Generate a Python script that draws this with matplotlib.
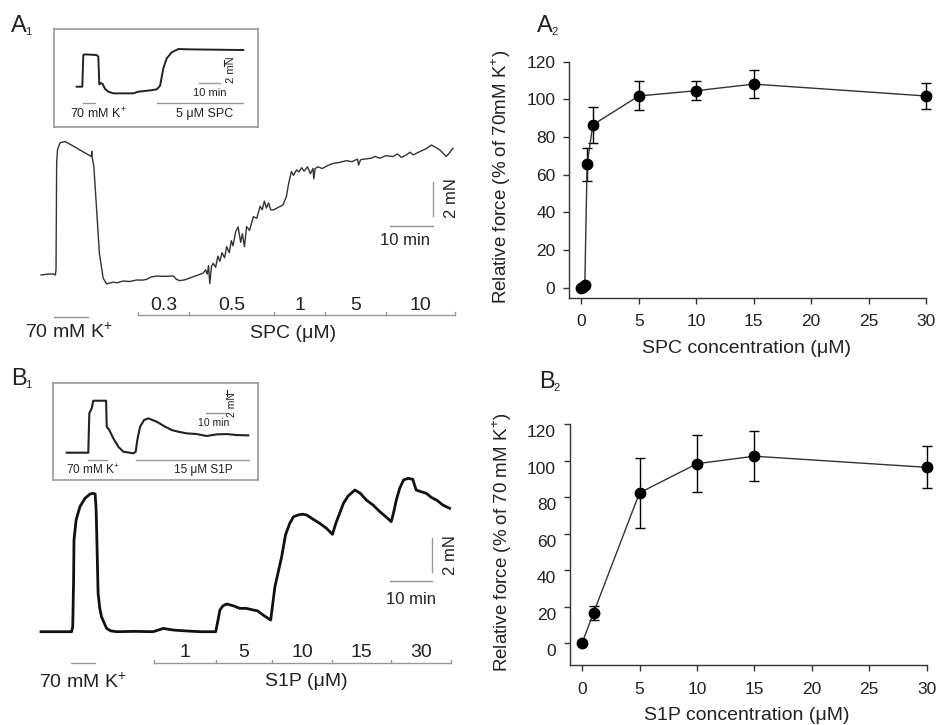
import numpy as np
import matplotlib
matplotlib.use("Agg")
import matplotlib.pyplot as plt
from matplotlib.transforms import ScaledTranslation

plt.rcParams['font.family'] = ['Liberation Sans', 'DejaVu Sans']
plt.rcParams['mathtext.fontset'] = 'custom'
plt.rcParams['mathtext.rm'] = 'Liberation Sans'

W, H = 938, 725
INK = '#222222'
BAR = '#999999'

# ---- data: traces (time in min, force in mN) ----
spc_trace = [(0, 0.0), (1.5, 0.05), (2.9, 0.06), (3.4, 0.0), (3.55, 0.3), (3.7, 6.5), (3.9, 7.3),
             (4.5, 7.7), (5.7, 7.77), (7.2, 7.57), (9.2, 7.28), (11.2, 7.0), (11.9, 6.9), (12.0, 7.2),
             (12.1, 6.85), (12.5, 6.3), (13.1, 4.0), (13.8, 1.26), (14.7, -0.19), (15.5, -0.52),
             (17.0, -0.42), (18.0, -0.45), (19.4, -0.35), (21.0, -0.38), (22.6, -0.29), (24.0, -0.3),
             (25.0, -0.25), (26.0, -0.12), (27.3, -0.06), (29.0, -0.08), (31.3, -0.06), (32.0, -0.25),
             (32.8, -0.33), (34.0, -0.28), (36.0, -0.1), (38.3, 0.1), (38.9, 0.3), (39.3, 0.05),
             (39.6, 0.55), (39.9, -0.5), (40.3, 0.5), (40.7, 0.68), (41.3, 0.45), (41.8, 1.1),
             (42.3, 0.8), (42.8, 1.3), (43.4, 1.0), (43.9, 1.65), (44.5, 1.3), (45.0, 2.0), (45.4, 1.7),
             (46.0, 2.5), (46.6, 2.8), (47.2, 1.9), (47.6, 2.4), (48.1, 1.65), (48.6, 2.82), (49.3, 2.6),
             (50.2, 3.4), (51.0, 3.3), (51.8, 4.0), (52.3, 3.8), (52.8, 4.3), (53.3, 3.9), (53.8, 4.2),
             (54.3, 3.8), (54.9, 3.79), (55.8, 3.9), (57.2, 4.08), (58.0, 4.56), (58.6, 5.4), (59.2, 6.02),
             (59.7, 5.8), (60.4, 6.12), (61.0, 6.0), (61.6, 6.25), (62.2, 6.05), (63.0, 6.3), (63.7, 5.9),
             (64.3, 6.21), (64.5, 5.6), (64.8, 6.2), (65.5, 6.3), (66.5, 6.2), (68.0, 6.4), (69.1, 6.5),
             (70.5, 6.55), (72.2, 6.66), (73.5, 6.6), (74.8, 6.75), (75.1, 6.4), (75.5, 6.7), (76.1, 6.74),
             (78.0, 6.8), (79.0, 6.9), (80.1, 6.8), (81.5, 6.95), (83.2, 6.9), (84.3, 7.05), (85.2, 6.85),
             (86.4, 6.99), (87.2, 7.15), (88.0, 7.0), (89.5, 7.18), (91.0, 7.35), (92.3, 7.57),
             (93.2, 7.45), (94.3, 7.28), (95.8, 6.9), (96.5, 7.1), (97.4, 7.38)]

s1p_trace = [(0, 0), (7.24, 0), (7.5, 0.3), (7.7, 3.0), (7.8, 5.5), (8.3, 6.7), (9.2, 7.5), (10.4, 8.0),
             (11.6, 8.26), (12.3, 8.3), (12.8, 8.26), (13.0, 7.5), (13.1, 6.7), (13.3, 4.5), (13.5, 2.3),
             (13.9, 1.4), (14.3, 0.9), (15.5, 0.2), (16.5, 0.05), (17.9, 0), (22.0, 0.02), (26.5, 0),
             (28.0, 0.12), (28.9, 0.2), (30.0, 0.15), (31.3, 0.1), (34.0, 0.05), (37.6, 0), (41.3, 0),
             (41.7, 0.5), (42.3, 1.3), (43.0, 1.55), (43.9, 1.66), (45.5, 1.55), (47.0, 1.4), (48.5, 1.4),
             (50.2, 1.3), (51.2, 1.25), (52.5, 1.0), (54.3, 0.7), (54.6, 1.3), (55.3, 2.7), (56.9, 4.5),
             (57.8, 5.8), (58.8, 6.5), (59.7, 6.9), (60.8, 7.0), (61.8, 7.05), (62.8, 7.0), (64.3, 6.75),
             (65.9, 6.5), (67.5, 6.2), (68.9, 5.84), (69.7, 6.5), (70.6, 7.1), (71.5, 7.7), (72.6, 8.14),
             (74.2, 8.5), (75.5, 8.3), (76.9, 7.9), (78.5, 7.6), (80.1, 7.2), (81.5, 6.9), (82.8, 6.6),
             (83.4, 7.2), (84.0, 7.9), (84.8, 8.6), (85.7, 9.1), (86.8, 9.2), (87.9, 9.14), (88.3, 8.8),
             (88.7, 8.5), (89.8, 8.4), (91.1, 8.3), (92.3, 8.05), (93.5, 7.9), (95.0, 7.6), (96.6, 7.4)]

spc_inset = [(0, 0), (2.8, 0), (3.3, 7.6), (4.2, 7.76), (10, 7.6), (10.8, 7.2), (11.3, 0.56), (12, 0.88),
             (13, 0.64), (14.2, -0.56), (15.8, -1.2), (18.3, -1.6), (28.3, -1.6), (30.8, -1.2),
             (36.7, -0.88), (40, -0.64), (41.7, 0.24), (43.3, 4.4), (45, 6.8), (47.5, 8.24),
             (50.8, 9.04), (56.7, 8.96), (83.3, 8.8)]

s1p_inset = [(0, 0), (10.8, 0), (11.3, 6.24), (12.5, 7.04), (13.3, 8.25), (19.7, 8.25), (20, 4.13),
             (21.3, 3.6), (23.3, 2.28), (25.8, 0.95), (28.3, 0.16), (33.3, -0.1), (34.5, 0.16),
             (35.3, 2.0), (36.7, 4.13), (38.7, 5.19), (40.8, 5.45), (45, 4.92), (49.2, 4.13),
             (52.5, 3.6), (55.8, 3.33), (60, 3.07), (65, 2.96), (70, 2.65), (75, 2.91), (80, 2.96),
             (85, 2.8), (90.8, 2.75)]

# application periods (min)
spc_labels = ['0.3', '0.5', '1', '5', '10']
spc_edges = [22.9, 35.0, 55.1, 67.1, 81.6, 97.9]
s1p_labels = ['1', '5', '10', '15', '30']
s1p_edges = [26.8, 41.3, 54.5, 68.9, 82.8, 97.0]

# ---- dose-response data ----
spc_conc = [0, 0.1, 0.3, 0.5, 1, 5, 10, 15, 30]
spc_force = [0, 0.5, 1.5, 65.5, 86.5, 101.8, 104.6, 108.1, 101.8]
spc_err = [0, 0, 0, 8.7, 9.7, 7.7, 4.9, 7.3, 6.7]

s1p_conc = [0, 1, 5, 10, 15, 30]
s1p_force = [0, 16.6, 82.4, 98.4, 102.5, 96.4]
s1p_err = [0, 4.0, 19.0, 15.5, 13.7, 11.5]


fig = plt.figure(figsize=(W / 100, H / 100), dpi=100)


def px_axes(box, origin, scale):
    # box (left, top, right, bottom) in pixels, origin = pixel of data (0, 0)
    l, t, r, b = box
    ax = fig.add_axes([l / W, 1 - b / H, (r - l) / W, (b - t) / H])
    ax.set_xlim((l - origin[0]) / scale[0], (r - origin[0]) / scale[0])
    ax.set_ylim((origin[1] - b) / scale[1], (origin[1] - t) / scale[1])
    return ax


def draw_trace(ax, trace, lw, color):
    tt, ff = np.array(trace).T
    ax.plot(tt, ff, color=color, lw=lw, solid_joinstyle='round', clip_on=False)
    ax.set_axis_off()


def conc_bar(ax, edges, labels, ybar, ylab, name_xy, name, size):
    ax.plot([edges[0], edges[-1]], [ybar, ybar], color=BAR, lw=1)
    for e in edges:
        ax.plot([e, e], [ybar, ybar + 0.18], color=BAR, lw=1)
    for i, lab in enumerate(labels):
        ax.text((edges[i] + edges[i + 1]) / 2, ylab, lab, ha='center', va='center',
                fontsize=size, color=INK)
    ax.text(name_xy[0], name_xy[1], name, ha='center', va='center', fontsize=size, color=INK)


def scale_bars(ax, tx, f0, fbar, txt_v, txt_h, size):
    ax.plot([tx, tx], [f0, f0 + 2], color=BAR, lw=1)
    ax.plot([tx - 10, tx], [fbar, fbar], color=BAR, lw=1)
    ax.text(txt_v[0], txt_v[1], '2 mN', rotation=90, ha='center', va='center', fontsize=size, color=INK)
    ax.text(txt_h[0], txt_h[1], '10 min', ha='center', va='center', fontsize=size, color=INK)


def panel_label(x, y, letter, num):
    fig.text(x / W, 1 - y / H, letter, fontsize=17, color=INK, ha='left', va='baseline')
    fig.text((x + 14) / W, 1 - (y + 3) / H, num, fontsize=8, color=INK, ha='left', va='baseline')


# ---- A1 main trace ----
axa = px_axes((30, 130, 468, 345), (41, 275), (4.23, 17.17))
draw_trace(axa, spc_trace, 1.0, '#333333')
conc_bar(axa, spc_edges, spc_labels, -2.33, -1.8, (59.6, -3.38), 'SPC (\u03bcM)', 14)
axa.plot([3.1, 11.1], [-2.43, -2.43], color=BAR, lw=1)
axa.text(6.6, -3.32, '70 mM K$^{+}$', ha='center', va='center', fontsize=14, color=INK)
scale_bars(axa, 92.6, 3.44, 2.87, (97.1, 4.48), (86.1, 2.0), 12)

# ---- A1 inset ----
axi = px_axes((54, 29, 258, 127), (76.7, 86.7), (2.0, 4.167))
draw_trace(axi, spc_inset, 1.4, '#222222')
axi.set_axis_on()
axi.set_xticks([])
axi.set_yticks([])
for s in axi.spines.values():
    s.set_color(BAR)
    s.set_linewidth(1.2)
axi.plot([3.3, 9.2], [-4.0, -4.0], color=BAR, lw=1)
axi.plot([40, 83], [-4.0, -4.0], color=BAR, lw=1)
axi.text(10.8, -6.62, '70 mM K$^{+}$', ha='center', va='center', fontsize=9, color=INK)
axi.text(64.2, -6.62, '5 \u03bcM SPC', ha='center', va='center', fontsize=9, color=INK)
axi.plot([61.3, 71.7], [0.96, 0.96], color=BAR, lw=1)
axi.text(66.3, -1.44, '10 min', ha='center', va='center', fontsize=8, color=INK)
axi.plot([73.4, 73.4], [4.9, 6.4], color=INK, lw=0.8)
axi.text(76.9, 4.0, '2 mN', rotation=90, ha='center', va='center', fontsize=8, color=INK)

# ---- B1 main trace ----
axb = px_axes((30, 470, 468, 700), (41, 631.7), (4.23, 16.67))
draw_trace(axb, s1p_trace, 2.0, '#111111')
conc_bar(axb, s1p_edges, s1p_labels, -1.86, -1.25, (62.8, -3.0), 'S1P (\u03bcM)', 14)
axb.plot([7.2, 12.8], [-1.9, -1.9], color=BAR, lw=1)
axb.text(9.8, -3.0, '70 mM K$^{+}$', ha='center', va='center', fontsize=14, color=INK)
scale_bars(axb, 92.5, 3.6, 3.04, (96.9, 4.6), (87.4, 1.96), 12)

# ---- B1 inset ----
axj = px_axes((53.3, 383, 258, 480), (66.7, 452.7), (2.0, 6.3))
draw_trace(axj, s1p_inset, 1.5, '#222222')
axj.set_axis_on()
axj.set_xticks([])
axj.set_yticks([])
for s in axj.spines.values():
    s.set_color(BAR)
    s.set_linewidth(1.2)
axj.plot([10.8, 20], [-1.16, -1.16], color=BAR, lw=1)
axj.plot([34.7, 91.3], [-1.16, -1.16], color=BAR, lw=1)
axj.text(12.8, -2.75, '70 mM K$^{+}$', ha='center', va='center', fontsize=8.5, color=INK)
axj.text(68.3, -2.75, '15 \u03bcM S1P', ha='center', va='center', fontsize=8.5, color=INK)
axj.plot([69.6, 79.6], [6.25, 6.25], color=BAR, lw=1)
axj.text(73.3, 4.76, '10 min', ha='center', va='center', fontsize=7.5, color=INK)
axj.plot([80, 80], [9.0, 9.9], color=INK, lw=0.8)
axj.text(82.6, 7.7, '2 mN', rotation=90, ha='center', va='center', fontsize=7.5, color=INK)


# ---- dose-response panels ----
def dose_axes(box, ylim, xc, yc, conc, force, err, xlabel, ylabel, ylab_xy, xlab_xy):
    l, t, r, b = box
    ax = fig.add_axes([l / W, 1 - b / H, (r - l) / W, (b - t) / H])
    ax.errorbar(conc, force, yerr=err, fmt='-o', color='#333333', lw=1, ms=7.5, mfc='black',
                mec='black', ecolor='black', elinewidth=1, capsize=3.5, capthick=1, clip_on=False)
    ax.set_xlim(-1.05, 30)
    ax.set_ylim(*ylim)
    ax.set_xticks(xc)
    ax.set_yticks(yc)
    for side in ['top', 'right']:
        ax.spines[side].set_visible(False)
    for side in ['left', 'bottom']:
        ax.spines[side].set_color('#333333')
        ax.spines[side].set_linewidth(1)
    ax.spines['left'].set_bounds(ylim[0], 120)
    ax.tick_params(direction='out', length=4, width=1, color='#333333', labelsize=12.5,
                   labelcolor=INK)
    ax.tick_params(axis='y', pad=6)
    ax.tick_params(axis='x', pad=8)
    ax.set_xlabel(xlabel, fontsize=14, color=INK, va='center')
    ax.set_ylabel(ylabel, fontsize=13.5, color=INK, va='center')
    ax.yaxis.set_label_coords(*ylab_xy)
    ax.xaxis.set_label_coords(*xlab_xy)
    for sp in ax.spines.values():
        sp.set_zorder(0)
    return ax


xt = [0, 5, 10, 15, 20, 25, 30]
yt = [0, 20, 40, 60, 80, 100, 120]
ax2 = dose_axes((569.3, 61.7, 926, 297.7), (-5.3, 120), xt, yt, spc_conc, spc_force, spc_err,
                'SPC concentration (\u03bcM)', 'Relative force (% of 70mM K$^{+}$)',
                (-0.19, 0.513), (0.497, -0.214))
ax3 = dose_axes((570, 424.3, 926.7, 665), (-12, 120), xt, yt, s1p_conc, s1p_force, s1p_err,
                'S1P concentration (\u03bcM)', 'Relative force (% of 70 mM K$^{+}$)',
                (-0.19, 0.51), (0.4955, -0.208))
for lbl in ax3.get_yticklabels():
    lbl.set_transform(lbl.get_transform() + ScaledTranslation(0, -0.07, fig.dpi_scale_trans))

panel_label(11, 32, 'A', '1')
panel_label(11, 385, 'B', '1')
panel_label(537, 32, 'A', '2')
panel_label(539, 388, 'B', '2')

fig.savefig('out.png', dpi=100, facecolor='white')
